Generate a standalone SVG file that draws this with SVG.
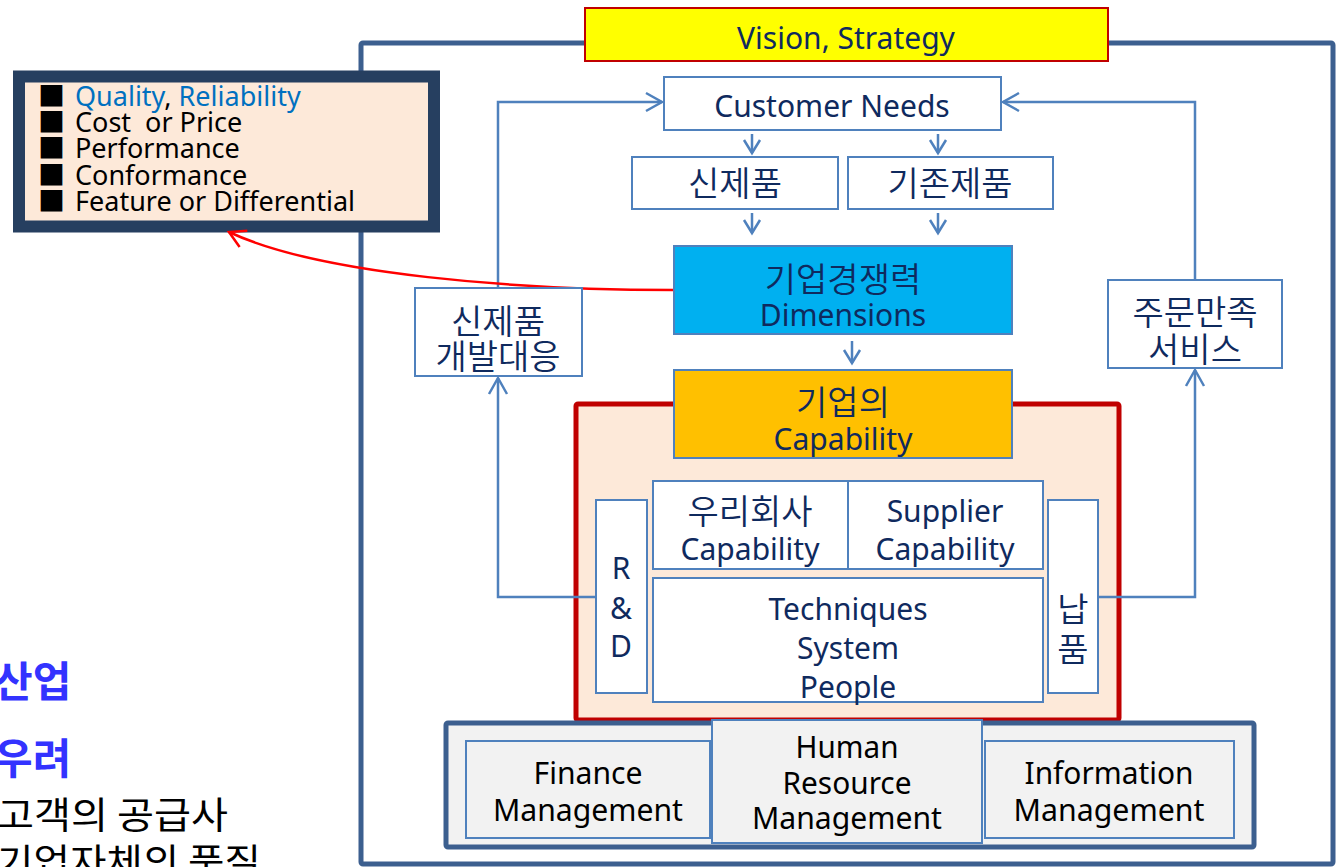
<svg xmlns="http://www.w3.org/2000/svg" width="1340" height="867" viewBox="0 0 1340 867">
<style>
.t{font-family:"Noto Sans","Noto Sans CJK KR",sans-serif;font-size:30px;fill:#0F2A5E;text-anchor:middle}
.k{font-family:"Noto Sans CJK KR",sans-serif;font-size:34px;font-weight:350;fill:#0F2A5E;text-anchor:middle}
.m{font-family:"Noto Sans","Noto Sans CJK KR",sans-serif;font-size:30px;fill:#000;text-anchor:middle}
.l{font-family:"Noto Sans","Noto Sans CJK KR",sans-serif;font-size:27px;fill:#000}
.box{fill:#fff;stroke:#4F81BD;stroke-width:2}
.conn{fill:none;stroke:#4F81BD;stroke-width:2.5}
</style>
<defs>
<marker id="ah" markerUnits="userSpaceOnUse" markerWidth="24" markerHeight="24" refX="18" refY="10" orient="auto" viewBox="0 0 24 20">
<path d="M2,1 L18,10 L2,19" fill="none" stroke="#4F81BD" stroke-width="2.5"/>
</marker>
<marker id="ahs" markerUnits="userSpaceOnUse" markerWidth="20" markerHeight="20" refX="15" refY="9" orient="auto" viewBox="0 0 20 18">
<path d="M2,1 L15,9 L2,17" fill="none" stroke="#4F81BD" stroke-width="2.5"/>
</marker>
<marker id="ahr" markerUnits="userSpaceOnUse" markerWidth="24" markerHeight="24" refX="18" refY="10" orient="auto" viewBox="0 0 24 20">
<path d="M2,1 L18,10 L2,19" fill="none" stroke="#FF0000" stroke-width="2.5"/>
</marker>
</defs>
<rect width="1340" height="867" fill="#fff"/>

<g id="frame">
<rect x="361" y="43" width="972" height="821" fill="none" stroke="#3C5F8F" stroke-width="5" rx="2"/>
</g>

<g id="vision">
<rect x="585" y="8" width="523" height="53" fill="#FFFF00" stroke="#C00000" stroke-width="2"/>
<text class="t" x="846" y="49">Vision, Strategy</text>
</g>

<g id="qualities">
<rect x="19" y="76.5" width="415" height="150" fill="#FDE9D9" stroke="#263F60" stroke-width="12"/>
<text class="l" x="38" y="106">■<tspan x="75" fill="#0070C0">Quality</tspan>, <tspan fill="#0070C0">Reliability</tspan></text>
<text class="l" x="38" y="132" xml:space="preserve">■<tspan x="75">Cost  or Price</tspan></text>
<text class="l" x="38" y="158">■<tspan x="75">Performance</tspan></text>
<text class="l" x="38" y="185">■<tspan x="75">Conformance</tspan></text>
<text class="l" x="38" y="211">■<tspan x="75">Feature or Differential</tspan></text>
</g>

<g id="side-text">
<text x="-6" y="697" font-family="Noto Sans CJK KR,sans-serif" font-size="42" font-weight="bold" fill="#3333FF">산업</text>
<text x="-6" y="774" font-family="Noto Sans CJK KR,sans-serif" font-size="42" font-weight="bold" fill="#3333FF">우려</text>
<text x="-3" y="829" font-family="Noto Sans CJK KR,sans-serif" font-size="37" fill="#000" textLength="231" lengthAdjust="spacingAndGlyphs">고객의 공급사</text>
<text x="-3" y="876" font-family="Noto Sans CJK KR,sans-serif" font-size="37" fill="#000" textLength="264" lengthAdjust="spacingAndGlyphs">기업자체의 품질</text>
</g>

<g id="capability-area">
<rect x="576" y="404" width="543" height="316" fill="#FDE9D9" stroke="#C00000" stroke-width="5" rx="2"/>
</g>

<g id="management-area">
<rect x="446" y="723" width="808" height="124" fill="#F2F2F2" stroke="#3C5F8F" stroke-width="5" rx="2"/>
</g>

<g id="connectors">
<path class="conn" d="M596,597 H498 V378" marker-end="url(#ah)"/>
<path class="conn" d="M498,288 V102 H662" marker-end="url(#ah)"/>
<path class="conn" d="M1098,597 H1195 V370" marker-end="url(#ah)"/>
<path class="conn" d="M1195,280 V102 H1003" marker-end="url(#ah)"/>
<path class="conn" d="M752,134 V153" marker-end="url(#ahs)"/>
<path class="conn" d="M938,134 V153" marker-end="url(#ahs)"/>
<path class="conn" d="M752,213 V233" marker-end="url(#ahs)"/>
<path class="conn" d="M938,213 V233" marker-end="url(#ahs)"/>
<path class="conn" d="M852,341 V363" marker-end="url(#ahs)"/>
<path d="M674,290 C520,290 320,275 229,232" fill="none" stroke="#FF0000" stroke-width="2.5" marker-end="url(#ahr)"/>
</g>

<g id="customer-needs">
<rect class="box" x="664" y="77" width="337" height="53"/>
<text class="t" x="832" y="117">Customer Needs</text>
</g>

<g id="new-product">
<rect class="box" x="632" y="157" width="206" height="52"/>
<text class="k" x="735" y="196">신제품</text>
</g>

<g id="existing-product">
<rect class="box" x="848" y="157" width="205" height="52"/>
<text class="k" x="950" y="196">기존제품</text>
</g>

<g id="dimensions">
<rect x="674" y="246" width="338" height="88" fill="#00B0F0" stroke="#4F81BD" stroke-width="2"/>
<text class="k" x="843" y="292">기업경쟁력</text>
<text class="t" x="843" y="326">Dimensions</text>
</g>

<g id="capability">
<rect x="674" y="370" width="338" height="88" fill="#FFC000" stroke="#4F81BD" stroke-width="2"/>
<text class="k" x="843" y="415">기업의</text>
<text class="t" x="843" y="450">Capability</text>
</g>

<g id="new-dev">
<rect class="box" x="415" y="288" width="167" height="88"/>
<text class="k" x="498" y="334">신제품</text>
<text class="k" x="498" y="369">개발대응</text>
</g>

<g id="order-service">
<rect class="box" x="1108" y="280" width="174" height="88"/>
<text class="k" x="1195" y="325">주문만족</text>
<text class="k" x="1195" y="362">서비스</text>
</g>

<g id="rnd">
<rect class="box" x="596" y="500" width="51" height="193"/>
<text class="t" x="621" y="579">R</text>
<text class="t" x="621" y="619">&amp;</text>
<text class="t" x="621" y="657">D</text>
</g>

<g id="our-capability">
<rect class="box" x="653" y="481" width="195" height="88"/>
<text class="k" x="750" y="524">우리회사</text>
<text class="t" x="750" y="560">Capability</text>
</g>

<g id="supplier-capability">
<rect class="box" x="848" y="481" width="195" height="88"/>
<text class="t" x="945" y="522">Supplier</text>
<text class="t" x="945" y="560">Capability</text>
</g>

<g id="techniques">
<rect class="box" x="653" y="578" width="390" height="124"/>
<text class="t" x="848" y="620">Techniques</text>
<text class="t" x="848" y="659">System</text>
<text class="t" x="848" y="698">People</text>
</g>

<g id="delivery">
<rect class="box" x="1048" y="500" width="50" height="193"/>
<text class="k" x="1073" y="622">납</text>
<text class="k" x="1073" y="662">품</text>
</g>

<g id="finance">
<rect x="466" y="741" width="244" height="97" fill="#F2F2F2" stroke="#4F81BD" stroke-width="2"/>
<text class="m" x="588" y="784" textLength="109" lengthAdjust="spacingAndGlyphs">Finance</text>
<text class="m" x="588" y="821" textLength="190" lengthAdjust="spacingAndGlyphs">Management</text>
</g>

<g id="hr">
<rect x="712" y="720" width="270" height="123" fill="#F2F2F2" stroke="#4F81BD" stroke-width="2"/>
<text class="m" x="847" y="758" textLength="103" lengthAdjust="spacingAndGlyphs">Human</text>
<text class="m" x="847" y="794" textLength="129" lengthAdjust="spacingAndGlyphs">Resource</text>
<text class="m" x="847" y="829" textLength="190" lengthAdjust="spacingAndGlyphs">Management</text>
</g>

<g id="information">
<rect x="985" y="741" width="249" height="97" fill="#F2F2F2" stroke="#4F81BD" stroke-width="2"/>
<text class="m" x="1109" y="784" textLength="169" lengthAdjust="spacingAndGlyphs">Information</text>
<text class="m" x="1109" y="821" textLength="191" lengthAdjust="spacingAndGlyphs">Management</text>
</g>
</svg>
